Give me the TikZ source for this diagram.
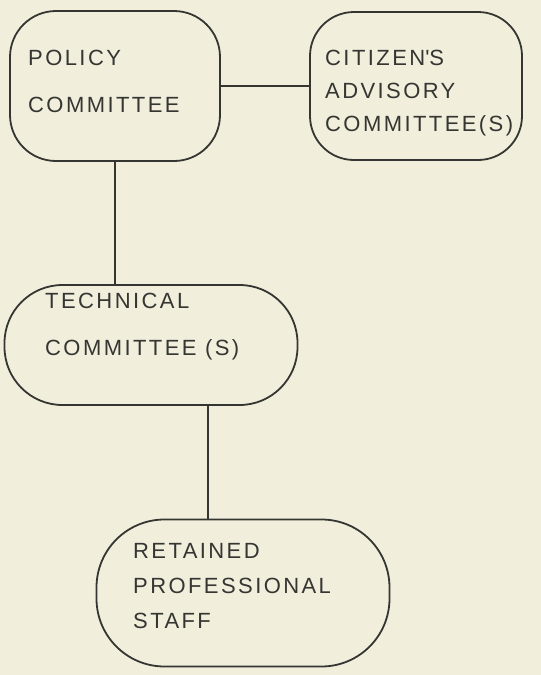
\documentclass[tikz,border=0pt]{standalone}
\usepackage{fontspec}
\setmainfont[LetterSpace=11]{Liberation Sans}
\usepackage{xcolor}
\definecolor{paper}{HTML}{F1EFDC}
\definecolor{pencil}{HTML}{353532}
\usepackage{tikz}
\usetikzlibrary{positioning}
\tikzset{
  pill/.style={draw=pencil, line width=1.8pt, rounded corners=#1, inner sep=0pt},
  wire/.style={draw=pencil, line width=1.6pt},
  txt/.style={text=pencil, align=left, inner sep=0pt, anchor=north west},
  tight/.style={txt, font=\fontsize{22}{33}\selectfont},
  loose/.style={txt, font=\fontsize{22}{47}\selectfont},
}
\begin{document}
\begin{tikzpicture}[x=1pt, y=-1pt]
  \useasboundingbox[fill=paper] (0,0) rectangle (541,675);
  \node[pill=46pt, minimum width=210pt, minimum height=150pt] (policy) at (115,86) {};
  \node[pill=44pt, minimum width=212pt, minimum height=148pt] (citizen) at (416,86) {};
  \node[pill=58pt, minimum width=293pt, minimum height=120pt] (technical) at (151,345) {};
  \node[pill=68pt, minimum width=293pt, minimum height=147pt] (retained) at (243,593) {};
  \node[loose] (policytxt) at (28,50) {POLICY\\COMMITTEE};
  \node[tight] (citizentxt) at (325,50) {CITIZEN\textquotesingle S\\ADVISORY\\COMMITTEE(S)};
  \node[loose] (technicaltxt) at (45,293) {TECHNICAL\\COMMITTEE (S)};
  \node[tight, font=\fontsize{22}{35}\selectfont] (retainedtxt) at (133,543) {RETAINED\\PROFESSIONAL\\STAFF};
  \coordinate (drop) at (208,0);
  \draw[wire] (policy.east) -- (citizen.west);
  \draw[wire] (policy.south) -- (policy.south |- technical.north);
  \draw[wire] (technical.south -| drop) -- (retained.north -| drop);
\end{tikzpicture}
\end{document}
